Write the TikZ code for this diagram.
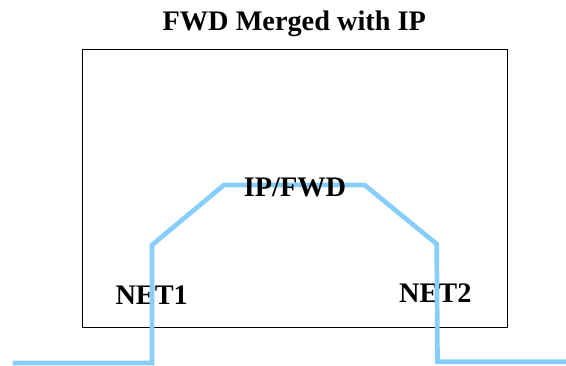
\documentclass[tikz,border=0pt]{standalone}
\usepackage{fontspec}
\setmainfont{Liberation Serif}
\begin{document}
\begin{tikzpicture}[x=1pt,y=-1pt,
  lbl/.style={font=\fontsize{28.3}{33}\selectfont\bfseries, inner sep=0pt, anchor=base},
  frame/.style={draw=black, line width=1.2pt, inner sep=0pt, minimum width=425pt, minimum height=277.7pt, anchor=north west},
  wire/.style={draw={rgb,255:red,135;green,206;blue,250}, line width=4.7pt, line join=miter}]
\useasboundingbox (0,0) rectangle (566,365);
\node[lbl] (title) at (294.3,30.7) {FWD Merged with IP};
\node[frame] (box) at (81.7,49) {};
\node[lbl] (net1) at (151.7,304) {NET1};
\node[lbl] (net2) at (435.3,302) {NET2};
\coordinate (a) at (12.7,363);
\coordinate (b) at (152,363);
\coordinate (c) at (152,245);
\coordinate (d) at (224,185);
\coordinate (e) at (364.6,185);
\coordinate (f) at (436.7,244);
\coordinate (g) at (437.5,361.7);
\coordinate (h) at (570,361.7);
\draw[wire] (a) -- (b) -- (c) -- (d) -- (e) -- (f) -- (g) -- (h);
\node[lbl] (ipfwd) at (295,196) {IP/FWD};
\end{tikzpicture}
\end{document}
